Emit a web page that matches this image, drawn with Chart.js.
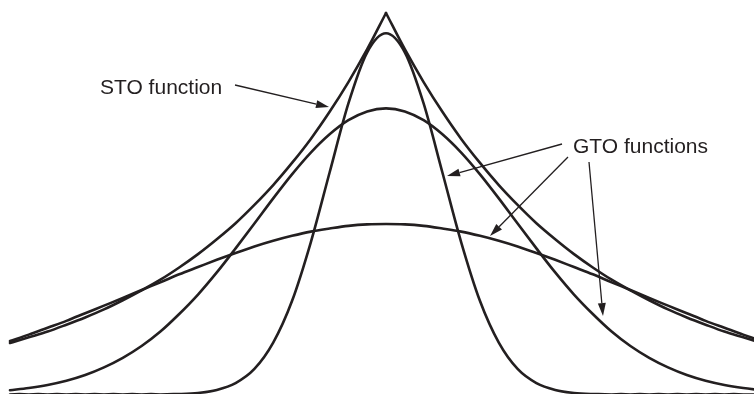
<!DOCTYPE html>
<html>
<head>
<meta charset="utf-8">
<script src="https://cdn.jsdelivr.net/npm/chart.js@4/dist/chart.umd.min.js"></script>
<style>
  html, body { margin: 0; padding: 0; background: #ffffff; }
  #wrap { width: 754px; height: 394px; }
</style>
</head>
<body>
<div id="wrap"><canvas id="c" width="754" height="394"></canvas></div>
<script>
// Sample positions (distance from the centre, in STO decay lengths)
const xValues = [-2.0,-1.9,-1.8,-1.7,-1.6,-1.5,-1.4,-1.3,-1.2,-1.1,-1.0,-0.9,-0.8,-0.7,-0.6,-0.5,-0.4,-0.3,-0.2,-0.1,0.0,
                 0.1,0.2,0.3,0.4,0.5,0.6,0.7,0.8,0.9,1.0,1.1,1.2,1.3,1.4,1.5,1.6,1.7,1.8,1.9,2.0];

// STO function (cusp at the centre)
const stoValues = [0.135,0.150,0.165,0.183,0.202,0.223,0.247,0.273,0.301,0.333,0.368,0.407,0.449,0.497,0.549,0.607,0.670,0.741,0.819,0.905,1.000,
                   0.905,0.819,0.741,0.670,0.607,0.549,0.497,0.449,0.407,0.368,0.333,0.301,0.273,0.247,0.223,0.202,0.183,0.165,0.150,0.135];

// GTO functions (narrow, medium, wide)
const gtoNarrow = [0,0,0,0,0,0,0,0,0,0.001,0.004,0.012,0.030,0.067,0.136,0.245,0.399,0.582,0.763,0.897,0.947,
                   0.897,0.763,0.582,0.399,0.245,0.136,0.067,0.030,0.012,0.004,0.001,0,0,0,0,0,0,0,0,0];
const gtoMedium = [0.011,0.017,0.025,0.036,0.051,0.071,0.096,0.127,0.165,0.211,0.262,0.320,0.383,0.448,0.514,0.577,0.634,0.682,0.719,0.742,0.750,
                   0.742,0.719,0.682,0.634,0.577,0.514,0.448,0.383,0.320,0.262,0.211,0.165,0.127,0.096,0.071,0.051,0.036,0.025,0.017,0.011];
const gtoWide   = [0.140,0.157,0.175,0.193,0.213,0.233,0.253,0.274,0.294,0.315,0.334,0.353,0.371,0.388,0.403,0.416,0.427,0.435,0.442,0.446,0.447,
                   0.446,0.442,0.435,0.427,0.416,0.403,0.388,0.371,0.353,0.334,0.315,0.294,0.274,0.253,0.233,0.213,0.193,0.175,0.157,0.140];

// Annotation texts
const labelTexts = ["STO function", "GTO functions"];

const INK = '#231f20';
const toPts = (vals, from, to) => {
  const out = [];
  for (let i = from; i <= to; i++) out.push({ x: xValues[i], y: vals[i] });
  return out;
};
const mid = xValues.indexOf(0.0);
const last = xValues.length - 1;

const lineDs = (data) => ({
  data: data,
  borderColor: INK,
  borderWidth: 2.6,
  pointRadius: 0,
  fill: false,
  clip: false,
  cubicInterpolationMode: 'monotone',
  borderCapStyle: 'round',
  borderJoinStyle: 'round'
});

function drawArrow(ctx, x1, y1, x2, y2) {
  const ang = Math.atan2(y2 - y1, x2 - x1);
  const L = 13, W = 4;
  const bx = x2 - L * Math.cos(ang), by = y2 - L * Math.sin(ang);
  ctx.beginPath();
  ctx.moveTo(x1, y1);
  ctx.lineTo(bx, by);
  ctx.lineWidth = 1.3;
  ctx.strokeStyle = INK;
  ctx.stroke();
  ctx.beginPath();
  ctx.moveTo(x2, y2);
  ctx.lineTo(bx + W * Math.sin(ang), by - W * Math.cos(ang));
  ctx.lineTo(bx - W * Math.sin(ang), by + W * Math.cos(ang));
  ctx.closePath();
  ctx.fillStyle = INK;
  ctx.fill();
}

const annotations = {
  id: 'annotations',
  afterDatasetsDraw(chart) {
    const ctx = chart.ctx;
    ctx.save();
    ctx.fillStyle = INK;
    ctx.font = '21px "Liberation Sans", Arial, sans-serif';
    ctx.textBaseline = 'alphabetic';
    ctx.textAlign = 'left';
    ctx.fillText(labelTexts[0], 100, 94);
    ctx.fillText(labelTexts[1], 573, 153);
    drawArrow(ctx, 235, 85, 329, 107);
    drawArrow(ctx, 562, 144, 447, 176);
    drawArrow(ctx, 568, 157, 490, 236);
    drawArrow(ctx, 589, 162, 603, 316);
    ctx.restore();
  }
};

new Chart(document.getElementById('c'), {
  type: 'line',
  data: {
    datasets: [
      lineDs(toPts(stoValues, 0, mid)),
      lineDs(toPts(stoValues, mid, last)),
      lineDs(toPts(gtoNarrow, 0, last)),
      lineDs(toPts(gtoMedium, 0, last)),
      lineDs(toPts(gtoWide, 0, last))
    ]
  },
  options: {
    responsive: false,
    animation: false,
    layout: { padding: 0 },
    plugins: { legend: { display: false }, tooltip: { enabled: false } },
    scales: {
      x: { type: 'linear', display: false, min: -2.0532, max: 1.9574 },
      y: { type: 'linear', display: false, min: 0.00131, max: 1.03408 }
    }
  },
  plugins: [annotations]
});
</script>
</body>
</html>
